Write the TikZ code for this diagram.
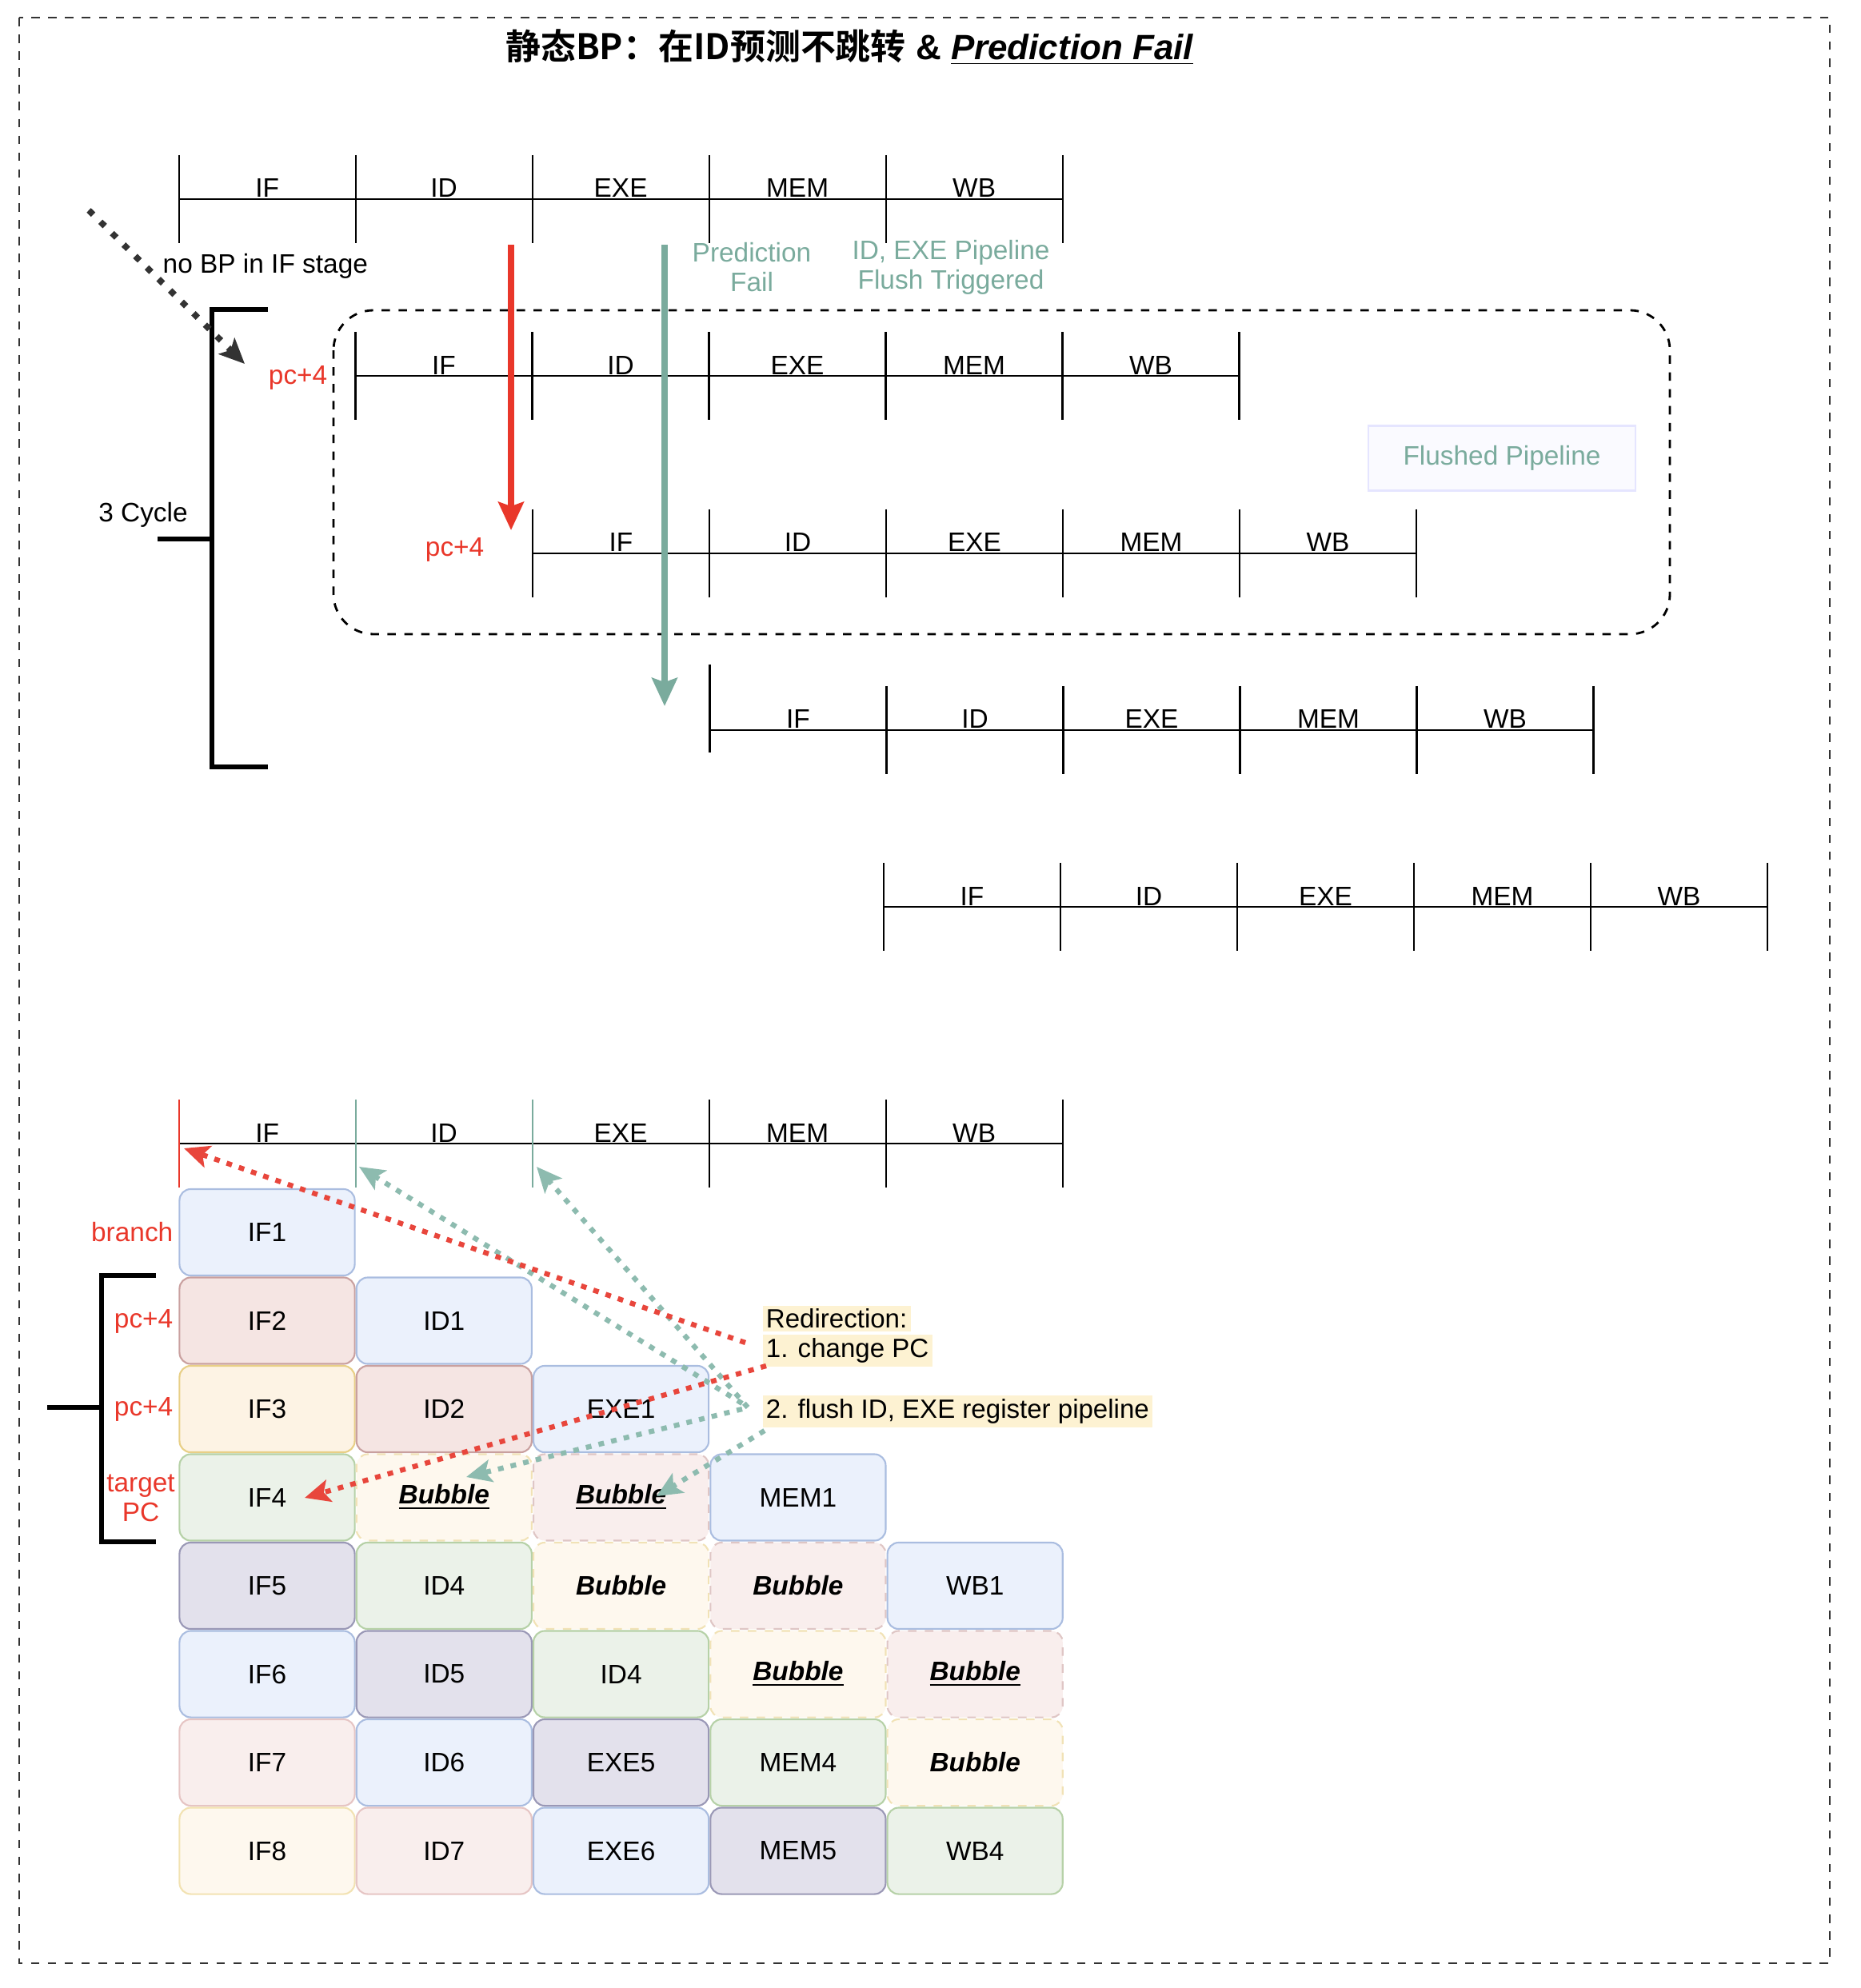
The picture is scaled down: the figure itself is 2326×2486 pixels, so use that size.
\documentclass[tikz,border=0pt]{standalone}
\usepackage{fontspec}
\setmainfont{Liberation Sans}
\newfontfamily\cjk{Noto Sans CJK SC}[BoldFont={Noto Sans CJK SC Bold}]
\usetikzlibrary{arrows.meta}

\definecolor{pcred}{RGB}{233,55,42}
\definecolor{flushteal}{RGB}{122,171,157}
\definecolor{dotred}{RGB}{232,70,60}
\definecolor{dotteal}{RGB}{141,187,175}
\definecolor{notebg}{HTML}{FDF2D2}
\definecolor{bluef}{HTML}{EBF1FC}   \definecolor{blued}{HTML}{AABDE0}
\definecolor{redf}{HTML}{F5E5E3}    \definecolor{redd}{HTML}{C9A09F}
\definecolor{redlf}{HTML}{F9EEED}   \definecolor{redld}{HTML}{E6C5C4}
\definecolor{yelf}{HTML}{FDF3E4}    \definecolor{yeld}{HTML}{E8CF86}
\definecolor{yellf}{HTML}{FEF8EE}   \definecolor{yelld}{HTML}{F2E2B2}
\definecolor{greenf}{HTML}{EBF2E9}  \definecolor{greend}{HTML}{B6D1A7}
\definecolor{purpf}{HTML}{E3E1EC}   \definecolor{purpd}{HTML}{9A98B6}

\tikzset{
  stage/.style={line width=0.6pt},
  stagelbl/.style={anchor=base, inner sep=0pt, font=\fontsize{9.5}{11}\selectfont},
  txt/.style={inner sep=0pt, font=\fontsize{9.5}{10.5}\selectfont},
  redtxt/.style={txt, text=pcred},
  tealtxt/.style={txt, text=flushteal, align=center},
  bracket/.style={line width=1.6pt},
  note/.style={fill=notebg, inner sep=1.2pt, font=\fontsize{9.4}{11}\selectfont},
  cell/.style={rounded corners=4pt, minimum width=2.19cm, minimum height=1.08cm,
    line width=0.6pt, font=\fontsize{9.5}{11}\selectfont},
  cblue/.style={cell, fill=bluef, draw=blued},
  cred/.style={cell, fill=redf, draw=redd},
  credl/.style={cell, fill=redlf, draw=redld},
  cyel/.style={cell, fill=yelf, draw=yeld},
  cyell/.style={cell, fill=yellf, draw=yelld},
  cgreen/.style={cell, fill=greenf, draw=greend},
  cpurp/.style={cell, fill=purpf, draw=purpd},
  bubyel/.style={cell, fill=yellf, draw=yeld!60, dashed},
  bubred/.style={cell, fill=redlf, draw=redd!60, dashed},
  dotarrow/.style={line width=1.8pt, dash pattern=on 2pt off 2.6pt,
    -{Stealth[length=9pt,width=8pt,inset=2pt]}},
  bigarrow/.style={line width=2pt, -{Stealth[length=10pt,width=9pt,inset=1.5pt]}}
}

% one time line: [tick colours]{x of IF tick}{y of line}{lift of first tick}
\newcommand{\stagerow}[4][black,black,black,black,black,black]{%
  \draw[stage] (#2,#3) -- ++(1105,0);
  \foreach \c [count=\i from 0] in {#1}{
    \pgfmathsetmacro\lift{\i==0 ? #4 : 0}
    \draw[stage,draw=\c] (#2+221*\i,#3-55-\lift) -- ++(0,110);
  }
  \foreach \s [count=\i from 0] in {IF,ID,EXE,MEM,WB}
    \node[stagelbl] at (#2+221*\i+110.5,#3-2) {\s};
}

\newcommand{\bub}{\textbf{\textit{Bubble}}}
\newcommand{\ubub}{\textbf{\textit{\underline{Bubble}}}}

\begin{document}
\begin{tikzpicture}[x=0.01cm,y=-0.01cm]

\useasboundingbox (0,0) rectangle (2326,2486);
\draw[line width=0.6pt, draw=black!80, dash pattern=on 3pt off 3pt] (24,22) rectangle (2288,2455);

\node[font=\fontsize{12.5}{15}\selectfont] (title) at (1062,59)
  {{\cjk\bfseries 静态BP：在ID预测不跳转} \textbf{\&} \textbf{\textit{\underline{Prediction Fail}}}};

% upper part: five instructions
\stagerow{223.6}{249}{0}
\stagerow{444.5}{470.3}{0}
\stagerow{666}{691.6}{0}
\stagerow{887.5}{912.9}{27}
\stagerow{1105}{1134.2}{0}

\draw[line width=0.8pt, dash pattern=on 3pt off 3pt, rounded corners=0.5cm] (417,388) rectangle (2088,793);
\node[tealtxt, fill=blue!2, draw=blue!10, minimum width=3.33cm, minimum height=0.81cm, line width=0.6pt] (flushed) at (1878,573) {Flushed Pipeline};

% 3 cycle bracket
\draw[bracket] (335,387) -- (265,387) -- (265,959) -- (335,959);
\draw[bracket] (197,674) -- (265,674);
\node[txt] (cyc) at (179,644) {3 Cycle};

\node[txt, anchor=west] (nobp) at (203,333) {no BP in IF stage};
\node[redtxt, anchor=east] (pcA) at (410,472) {pc+4};
\node[redtxt, anchor=east] (pcB) at (606,687) {pc+4};
\node[tealtxt] (fail) at (940,334) {Prediction\\Fail};
\node[tealtxt] (trig) at (1189,334) {ID, EXE Pipeline\\Flush Triggered};

\coordinate (nobpS) at (111,263);
\coordinate (nobpE) at (306,455);
\coordinate (redS) at (639,306);
\coordinate (redE) at (639,663);
\coordinate (tealS) at (831,306);
\coordinate (tealE) at (831,883);
\draw[dotarrow, draw=black!80, line width=2.2pt, dash pattern=on 2.2pt off 3.6pt] (nobpS) -- (nobpE);
\draw[bigarrow, pcred] (redS) -- (redE);
\draw[bigarrow, flushteal] (tealS) -- (tealE);

% lower part: cycle table
\stagerow[pcred,flushteal,flushteal,black,black,black]{223.6}{1430}{0}

\node[cblue] (c00) at (334,1541) {IF1};

\node[cred] (c10) at (334,1651.5) {IF2};
\node[cblue] (c11) at (555.3,1651.5) {ID1};

\node[cyel] (c20) at (334,1762) {IF3};
\node[cred] (c21) at (555.3,1762) {ID2};
\node[cblue] (c22) at (776.6,1762) {EXE1};

\node[cgreen] (c30) at (334,1872.5) {IF4};
\node[bubyel] (c31) at (555.3,1872.5) {\ubub};
\node[bubred] (c32) at (776.6,1872.5) {\ubub};
\node[cblue] (c33) at (997.9,1872.5) {MEM1};

\node[cpurp] (c40) at (334,1983) {IF5};
\node[cgreen] (c41) at (555.3,1983) {ID4};
\node[bubyel] (c42) at (776.6,1983) {\bub};
\node[bubred] (c43) at (997.9,1983) {\bub};
\node[cblue] (c44) at (1219.2,1983) {WB1};

\node[cblue] (c50) at (334,2093.5) {IF6};
\node[cpurp] (c51) at (555.3,2093.5) {ID5};
\node[cgreen] (c52) at (776.6,2093.5) {ID4};
\node[bubyel] (c53) at (997.9,2093.5) {\ubub};
\node[bubred] (c54) at (1219.2,2093.5) {\ubub};

\node[credl] (c60) at (334,2204) {IF7};
\node[cblue] (c61) at (555.3,2204) {ID6};
\node[cpurp] (c62) at (776.6,2204) {EXE5};
\node[cgreen] (c63) at (997.9,2204) {MEM4};
\node[bubyel] (c64) at (1219.2,2204) {\bub};

\node[cyell] (c70) at (334,2314.5) {IF8};
\node[credl] (c71) at (555.3,2314.5) {ID7};
\node[cblue] (c72) at (776.6,2314.5) {EXE6};
\node[cpurp] (c73) at (997.9,2314.5) {MEM5};
\node[cgreen] (c74) at (1219.2,2314.5) {WB4};

% row labels and bracket
\node[redtxt, anchor=east] (lbr) at (217,1541) {branch};
\node[redtxt, anchor=east] (lpcA) at (217,1652) {pc+4};
\node[redtxt, anchor=east] (lpcB) at (217,1762) {pc+4};
\node[redtxt, align=center] (ltgt) at (176,1873) {target\\PC};
\draw[bracket] (195,1595) -- (127,1595) -- (127,1928) -- (195,1928);
\draw[bracket] (59,1760) -- (127,1760);

% redirection notes
\node[note, anchor=west] (redir) at (953,1649) {Redirection:};
\node[note, anchor=west] (chpc) at (953,1689) {1. change PC};
\node[note, anchor=west] (flush) at (953,1765) {2. flush ID, EXE register pipeline};

\coordinate (tipIF) at (230,1436);
\coordinate (tipID) at (449,1459);
\coordinate (tipEXE) at (671,1459);
\coordinate (tipIF4) at (381,1873);
\coordinate (tipB1) at (583,1847);
\coordinate (tipB2) at (821,1871);
\coordinate (redirA) at (932,1679);
\coordinate (redirB) at (958,1708);
\coordinate (flA) at (928,1755);
\coordinate (flB) at (935,1760);
\coordinate (flC) at (928,1762);
\coordinate (flD) at (956,1789);

\draw[dotarrow, dotteal] (flA) -- (tipID);
\draw[dotarrow, dotteal] (flB) -- (tipEXE);
\draw[dotarrow, dotteal] (flC) -- (tipB1);
\draw[dotarrow, dotteal] (flD) -- (tipB2);
\draw[dotarrow, dotred] (redirA) -- (tipIF);
\draw[dotarrow, dotred] (redirB) -- (tipIF4);

\end{tikzpicture}
\end{document}
